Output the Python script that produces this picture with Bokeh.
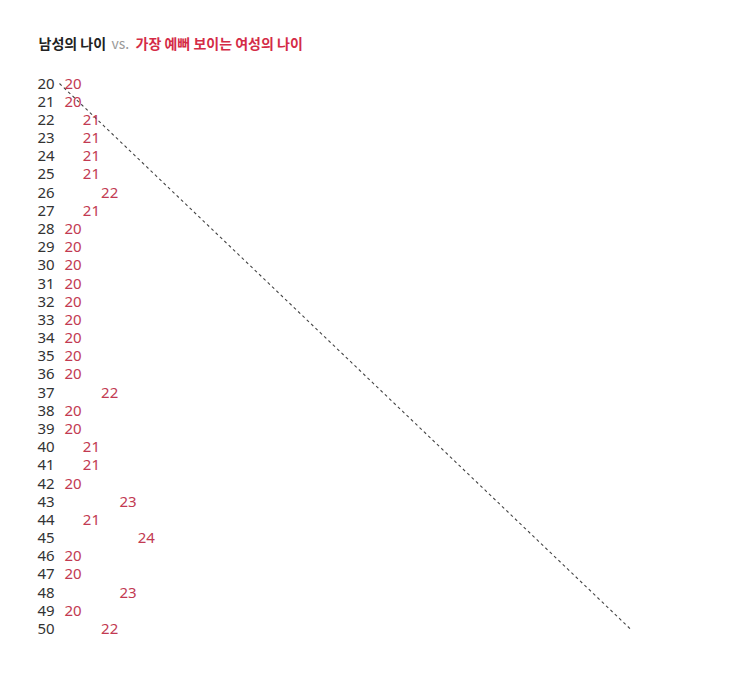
import bokeh.plotting
from bokeh.core.properties import value
from bokeh.embed import file_html
from bokeh.models import ColumnDataSource, Label, Range1d
from bokeh.resources import INLINE

# Men's age and the age of women who look best to them
men_age = list(range(20, 51))
women_age = [
    20, 20, 21, 21, 21, 21, 22, 21, 20, 20,
    20, 20, 20, 20, 20, 20, 20, 22, 20, 20,
    21, 21, 20, 23, 21, 24, 20, 20, 23, 20,
    22,
]

title_left = "남성의 나이"
title_mid = "vs."
title_right = "가장 예뻐 보이는 여성의 나이"

W, H = 724, 660

# pixel layout -> data ranges
px_year = 18.3
px_row = 18.18
x0 = 20 - 64 / px_year
y_top = 20 - 83 / px_row
y_bot = 50 + (H - 628.5) / px_row

p = bokeh.plotting.figure(
    width=W,
    height=H,
    x_range=Range1d(x0, x0 + W / px_year),
    y_range=Range1d(y_bot, y_top),
    output_backend="svg",
    toolbar_location=None,
    min_border=0,
    outline_line_color=None,
    background_fill_color="white",
    border_fill_color="white",
)
p.axis.visible = False
p.grid.visible = False

# the diagonal is on its own x scale
d_px = 19.03
d0 = 20 - 59 / d_px
p.extra_x_ranges = {"diag": Range1d(d0, d0 + W / d_px)}
p.line(
    x=[min(men_age), max(men_age)],
    y=[min(men_age), max(men_age)],
    x_range_name="diag",
    line_color="#444444",
    line_width=1.1,
    line_dash="3 3",
)

src = ColumnDataSource(
    dict(
        men=men_age,
        women=women_age,
        men_txt=[str(a) for a in men_age],
        women_txt=[str(a) for a in women_age],
        col=[min(men_age)] * len(men_age),
    )
)

p.text(
    x="col", y="men", text="men_txt", source=src,
    x_offset=-27,
    text_font=value("Noto Sans"), text_font_size="15px",
    text_color="#333333", text_baseline="middle", text_align="left",
)
p.text(
    x="women", y="men", text="women_txt", source=src,
    text_font=value("Noto Sans"), text_font_size="15px",
    text_color="#c23a52", text_baseline="middle", text_align="left",
)

ty = H - 42
for txt, tx, color, style in [
    (title_left, 38, "#222222", "bold"),
    (title_mid, 111, "#9a9a9a", "normal"),
    (title_right, 135, "#d42b46", "bold"),
]:
    p.add_layout(
        Label(
            x=tx, y=ty, x_units="screen", y_units="screen", text=txt,
            text_font="Noto Sans CJK KR", text_font_size="14px",
            text_font_style=style, text_color=color,
            text_baseline="middle", text_align="left",
        )
    )

open("out.html", "w").write(file_html(p, INLINE))
